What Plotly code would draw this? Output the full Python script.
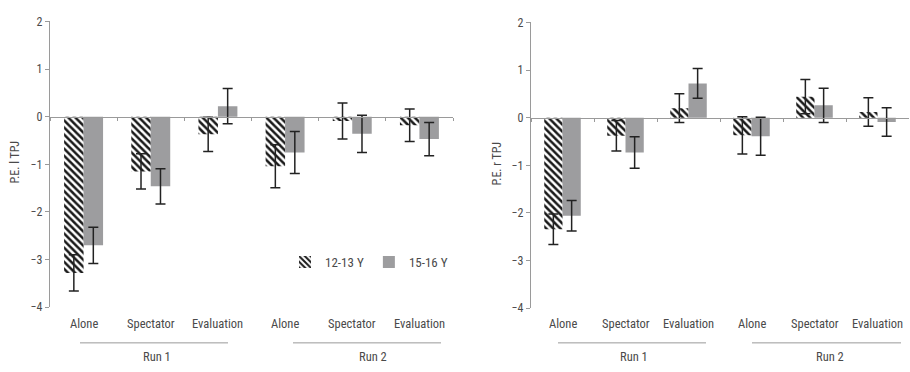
import plotly.graph_objects as go

categories = ["Alone", "Spectator", "Evaluation", "Alone ", "Spectator ", "Evaluation "]
cat_labels = ["Alone", "Spectator", "Evaluation", "Alone", "Spectator", "Evaluation"]
runs = ["Run 1", "Run 2"]
series_names = ["12-13 Y", "15-16 Y"]

left_young = [-3.28, -1.15, -0.37, -1.04, -0.09, -0.18]
left_young_err = [0.38, 0.37, 0.36, 0.45, 0.38, 0.34]
left_old = [-2.70, -1.46, 0.22, -0.75, -0.36, -0.47]
left_old_err = [0.38, 0.37, 0.37, 0.44, 0.39, 0.35]

right_young = [-2.34, -0.38, 0.20, -0.37, 0.44, 0.12]
right_young_err = [0.32, 0.32, 0.30, 0.39, 0.36, 0.30]
right_old = [-2.06, -0.73, 0.72, -0.39, 0.26, -0.09]
right_old_err = [0.32, 0.33, 0.31, 0.40, 0.36, 0.30]

y_titles = ["P.E. l TPJ", "P.E. r TPJ"]

W, H = 910, 372
FONT = "Liberation Sans Narrow, Roboto Condensed, Roboto, DejaVu Sans Condensed, sans-serif"
TXT = "#4a4a4a"
AX = "#9a9a9a"
GREY = "#9d9d9f"

def px_x(p):
    return p / W

def px_y(p):
    return 1 - p / H

panels = [
    dict(xd=[px_x(50), px_x(453)], yd=[px_y(312), px_y(15)], young=left_young, ye=left_young_err,
         old=left_old, oe=left_old_err, title=y_titles[0], legend=True,
         title_x=15, run_lines=[(80, 228), (293, 441)], run_x=[157, 373]),
    dict(xd=[px_x(531), px_x(909)], yd=[px_y(313), px_y(16)], young=right_young, ye=right_young_err,
         old=right_old, oe=right_old_err, title=y_titles[1], legend=False,
         title_x=497, run_lines=[(558, 706), (752, 901)], run_x=[634, 830]),
]

fig = go.Figure()
annotations = []
shapes = []
ymin, ymax = -4, 2

for i, p in enumerate(panels):
    n = "" if i == 0 else str(i + 1)
    xa, ya = "x" + n, "y" + n
    fig.add_trace(go.Bar(
        x=categories, y=p["young"], name=series_names[0], xaxis=xa, yaxis=ya,
        showlegend=p["legend"], legendgroup="a",
        marker=dict(color="white", line=dict(width=0),
                    pattern=dict(shape="\\", fgcolor="#1a1a1a", bgcolor="white", size=5, solidity=0.5, fillmode="replace")),
        error_y=dict(type="data", array=p["ye"], color="#222222", thickness=1.5, width=5),
    ))
    fig.add_trace(go.Bar(
        x=categories, y=p["old"], name=series_names[1], xaxis=xa, yaxis=ya,
        showlegend=p["legend"], legendgroup="b",
        marker=dict(color=GREY, line=dict(width=0)),
        error_y=dict(type="data", array=p["oe"], color="#222222", thickness=1.5, width=5),
    ))
    y0_paper = p["yd"][0] + (0 - ymin) / (ymax - ymin) * (p["yd"][1] - p["yd"][0])
    fig.layout["xaxis" + n] = dict(
        domain=p["xd"], anchor="free", position=y0_paper,
        showline=True, linecolor=AX, linewidth=1.2,
        ticks="outside", tickson="boundaries", ticklen=3, tickcolor=AX,
        showticklabels=False, showgrid=False, zeroline=False, fixedrange=True,
        categoryorder="array", categoryarray=categories,
    )
    fig.layout["yaxis" + n] = dict(
        domain=p["yd"], anchor=xa, range=[ymin, ymax], dtick=1,
        showline=True, linecolor=AX, linewidth=1.2,
        ticks="outside", ticklen=4, tickcolor=AX,
        showgrid=False, zeroline=False,
        tickfont=dict(family=FONT, size=12, color=TXT),
    )
    annotations.append(dict(
        text=p["title"], x=px_x(p["title_x"]), y=(p["yd"][0] + p["yd"][1]) / 2 + 0.005,
        xref="paper", yref="paper", textangle=-90, showarrow=False,
        font=dict(family=FONT, size=12, color=TXT), xanchor="center", yanchor="middle",
    ))
    for c, lab in zip(categories, cat_labels):
        annotations.append(dict(
            text=lab, x=c, xref=xa, y=px_y(329), yref="paper", showarrow=False,
            font=dict(family=FONT, size=12.5, color=TXT), xanchor="center", yanchor="middle",
        ))
    for (a, b), rx, rl in zip(p["run_lines"], p["run_x"], runs):
        shapes.append(dict(type="line", xref="paper", yref="paper",
                           x0=px_x(a), x1=px_x(b), y0=px_y(349), y1=px_y(349),
                           line=dict(color=AX, width=1)))
        annotations.append(dict(
            text=rl, x=px_x(rx), y=px_y(363), xref="paper", yref="paper", showarrow=False,
            font=dict(family=FONT, size=12.5, color=TXT), xanchor="center", yanchor="middle",
        ))

fig.update_layout(
    width=W, height=H, margin=dict(l=0, r=0, t=0, b=0),
    paper_bgcolor="white", plot_bgcolor="white",
    barmode="group", bargap=0.42, bargroupgap=0,
    annotations=annotations, shapes=shapes,
    font=dict(family=FONT, size=12, color=TXT),
    legend=dict(orientation="h", x=px_x(285), y=px_y(265), xanchor="left", yanchor="middle",
                bgcolor="rgba(0,0,0,0)", font=dict(family=FONT, size=13, color=TXT),
                itemwidth=30, traceorder="normal"),
)

fig.write_html("out.html")
